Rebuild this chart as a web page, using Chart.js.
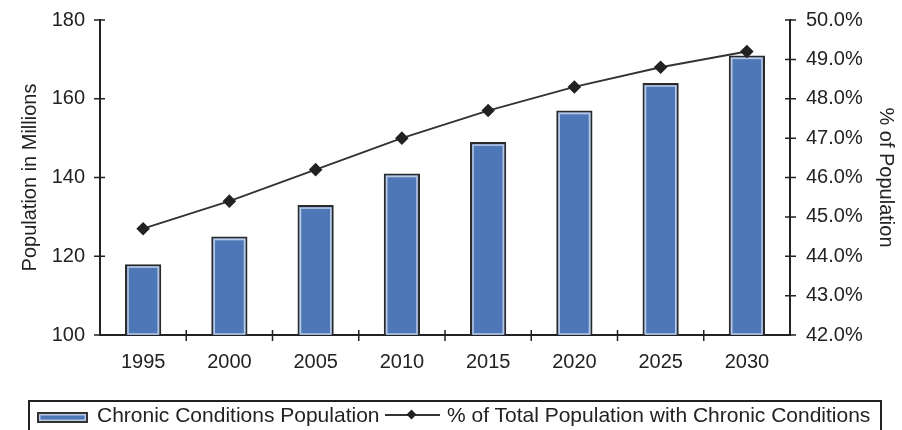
<!DOCTYPE html>
<html>
<head>
<meta charset="utf-8">
<script src="https://cdn.jsdelivr.net/npm/chart.js@4.4.0/dist/chart.umd.min.js"></script>
<style>
  body { margin: 0; background: #fff; }
  #wrap { position: relative; width: 902px; height: 430px; overflow: hidden; background: #fff; }
  #chart { position: absolute; left: 0; top: 0; }
  #legend {
    position: absolute; left: 28px; top: 400px; width: 854px; height: 40px;
    border: 2px solid #222; box-sizing: border-box;
    font: 21px "Liberation Sans", Arial, sans-serif; color: #222;
  }
  #legend .item { position: absolute; top: 2px; line-height: 22px; white-space: nowrap; }
  #legend .barKey {
    position: absolute; left: 7px; top: 10px; width: 47px; height: 7px;
    background: #4d77b7; border: 2px solid #333; box-shadow: inset 0 0 0 1.5px #b9c9e4;
  }
  #legend .lineKey { position: absolute; left: 355px; top: 12px; width: 55px; height: 2px; background: #333; }
  #legend .diamond {
    position: absolute; left: 378px; top: 9px; width: 7px; height: 7px;
    background: #222; transform: rotate(45deg);
  }
</style>
</head>
<body>
<div id="wrap">
  <canvas id="chart" width="902" height="430"></canvas>
  <div id="legend">
    <span class="barKey"></span>
    <span class="item" style="left:67px">Chronic Conditions Population</span>
    <span class="lineKey"></span>
    <span class="diamond"></span>
    <span class="item" style="left:417px">% of Total Population with Chronic Conditions</span>
  </div>
</div>
<script>
// years on the x axis
const years = ['1995', '2000', '2005', '2010', '2015', '2020', '2025', '2030'];
// population with chronic conditions, millions
const population = [118, 125, 133, 141, 149, 157, 164, 171];
// share of total population, percent
const percentShare = [44.7, 45.4, 46.2, 47.0, 47.7, 48.3, 48.8, 49.2];
// axis ranges
const popTicks = [100, 120, 140, 160, 180];
const pctTicks = [42, 43, 44, 45, 46, 47, 48, 49, 50];

const FONT = { family: '"Liberation Sans", Arial, sans-serif', size: 20 };
const INK = '#222';

// light inner edge on each bar
const barInnerEdge = {
  id: 'barInnerEdge',
  afterDatasetDraw(chart, args) {
    if (args.index !== 1) return;
    const ctx = chart.ctx;
    const bottom = chart.scales.y.getPixelForValue(100);
    ctx.save();
    ctx.strokeStyle = '#b9c9e4';
    ctx.lineWidth = 1.5;
    args.meta.data.forEach(bar => {
      const x = bar.x, y = bar.y, w = bar.width;
      ctx.strokeRect(x - w / 2 + 3, y + 3, w - 6, bottom - y - 4);
    });
    ctx.restore();
  }
};

// tick marks that cross the axis lines
const crossTicks = {
  id: 'crossTicks',
  afterDraw(chart) {
    const { ctx, chartArea: a, scales } = chart;
    ctx.save();
    ctx.strokeStyle = INK;
    ctx.lineWidth = 1.5;
    ctx.beginPath();
    popTicks.forEach(v => {
      const y = scales.y.getPixelForValue(v);
      ctx.moveTo(a.left - 6, y); ctx.lineTo(a.left + 5, y);
    });
    pctTicks.forEach(v => {
      const y = scales.y1.getPixelForValue(v);
      ctx.moveTo(a.right - 5, y); ctx.lineTo(a.right + 6, y);
    });
    for (let i = 1; i < years.length; i++) {
      const x = (scales.x.getPixelForValue(i - 1) + scales.x.getPixelForValue(i)) / 2;
      ctx.moveTo(x, a.bottom - 5); ctx.lineTo(x, a.bottom + 6);
    }
    ctx.stroke();
    ctx.restore();
  }
};

new Chart(document.getElementById('chart'), {
  data: {
    labels: years,
    datasets: [
      {
        type: 'line',
        label: '% of Total Population with Chronic Conditions',
        data: percentShare,
        yAxisID: 'y1',
        borderColor: '#333',
        borderWidth: 1.8,
        pointStyle: 'rectRot',
        pointRadius: 5.5,
        pointBackgroundColor: '#222',
        pointBorderColor: '#222',
        tension: 0,
        order: 0
      },
      {
        type: 'bar',
        label: 'Chronic Conditions Population',
        data: population,
        yAxisID: 'y',
        backgroundColor: '#4d77b7',
        borderColor: '#2a2a2a',
        borderWidth: 2,
        barPercentage: 0.84,
        categoryPercentage: 0.5,
        order: 1
      }
    ]
  },
  options: {
    responsive: false,
    animation: false,
    layout: { padding: { top: 11, left: 0, right: 0, bottom: 0 } },
    plugins: { legend: { display: false }, tooltip: { enabled: false } },
    scales: {
      x: {
        grid: { display: false },
        border: { color: INK, width: 2 },
        ticks: { font: FONT, color: INK, padding: 7, maxRotation: 0 },
        afterFit(s) { s.height = 95; }
      },
      y: {
        position: 'left',
        min: 100, max: 180,
        grid: { display: false },
        border: { color: INK, width: 2 },
        ticks: { stepSize: 20, font: FONT, color: INK, padding: 7 },
        title: { display: true, text: 'Population in Millions', font: FONT, color: INK, padding: { top: 18, bottom: 0 } },
        afterFit(s) { s.width = 100; }
      },
      y1: {
        position: 'right',
        min: 42, max: 50,
        grid: { display: false },
        border: { color: INK, width: 2 },
        ticks: { stepSize: 1, font: FONT, color: INK, padding: 8, callback: v => v.toFixed(1) + '%' },
        title: { display: true, text: '% of Population', font: FONT, color: INK, padding: { top: 4, bottom: 0 } },
        afterFit(s) { s.width = 112; }
      }
    }
  },
  plugins: [barInnerEdge, crossTicks]
});
</script>
</body>
</html>
